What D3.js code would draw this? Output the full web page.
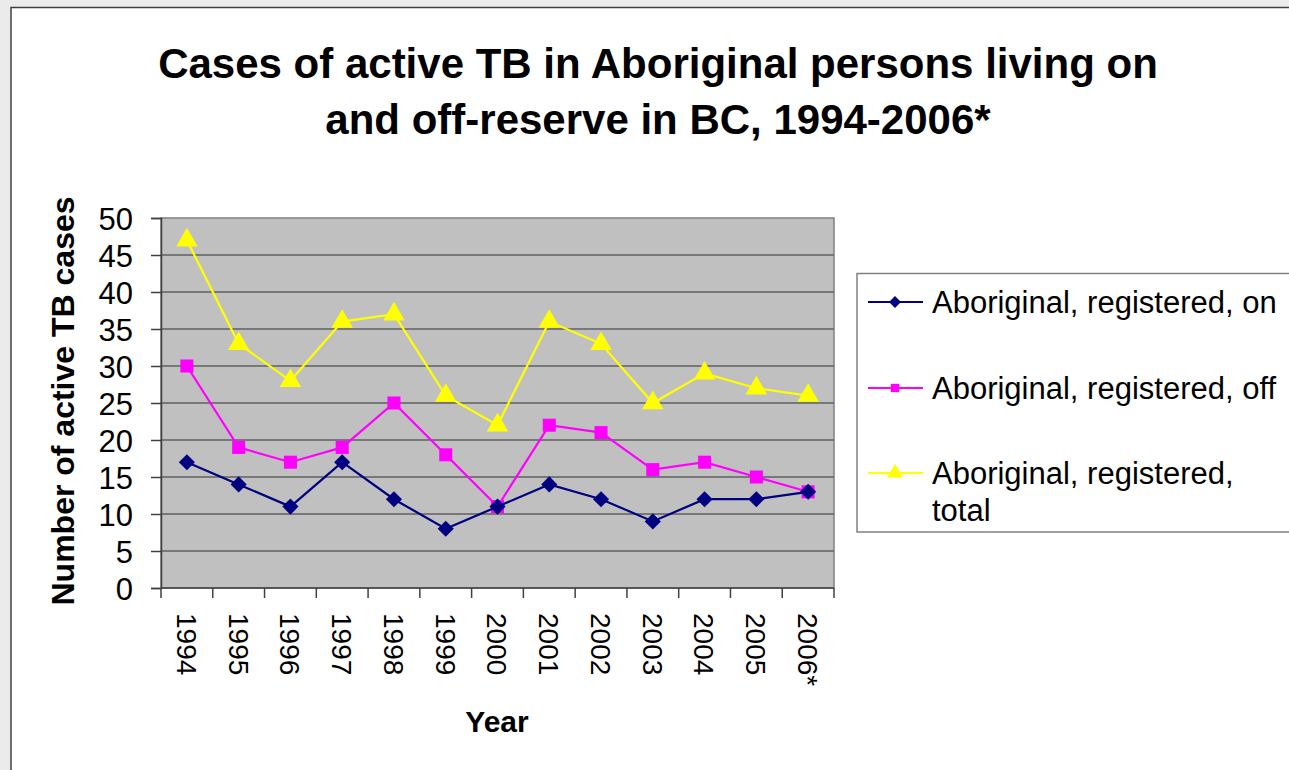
<!DOCTYPE html>
<html>
<head>
<meta charset="utf-8">
<script src="https://cdn.jsdelivr.net/npm/d3@7"></script>
<style>
  html, body { margin: 0; padding: 0; background: #ebebeb; }
  svg { display: block; font-family: Arial, "Liberation Sans", sans-serif; }
</style>
</head>
<body>
<svg id="chart" width="1289" height="770"></svg>
<script>
const years = ['1994', '1995', '1996', '1997', '1998', '1999', '2000', '2001', '2002', '2003', '2004', '2005', '2006*'];
const onReserve = [17, 14, 11, 17, 12, 8, 11, 14, 12, 9, 12, 12, 13];
const offReserve = [30, 19, 17, 19, 25, 18, 11, 22, 21, 16, 17, 15, 13];
const total = [47, 33, 28, 36, 37, 26, 22, 36, 33, 25, 29, 27, 26];
const yTicks = [0, 5, 10, 15, 20, 25, 30, 35, 40, 45, 50];

const series = [
    { name: 'Aboriginal, registered, on', values: onReserve, color: '#000080', symbol: 'diamond' },
    { name: 'Aboriginal, registered, off', values: offReserve, color: '#ff00ff', symbol: 'square' },
    { name: 'Aboriginal, registered, total', values: total, color: '#ffff00', symbol: 'triangle' }
];

const svg = d3.select('#chart');

// page frame
svg.append('rect')
    .attr('x', 11).attr('y', 7.5)
    .attr('width', 1400).attr('height', 900)
    .attr('fill', '#fff')
    .attr('stroke', '#404040')
    .attr('stroke-width', 1.5);

const plot = { left: 161, right: 834, top: 218, bottom: 588 };

const x = d3.scaleBand()
    .domain(years)
    .range([plot.left, plot.right]);

const y = d3.scaleLinear()
    .domain([0, 50])
    .range([plot.bottom, plot.top]);

// title
svg.append('text')
    .attr('text-anchor', 'middle')
    .style('font-size', '42px').style('font-weight', 'bold')
    .selectAll('tspan')
    .data(['Cases of active TB in Aboriginal persons living on', 'and off-reserve in BC, 1994-2006*'])
    .join('tspan')
    .attr('x', 658)
    .attr('y', (d, i) => 78 + i * 56)
    .text(d => d);

// plot background
svg.append('rect')
    .attr('x', plot.left).attr('y', plot.top)
    .attr('width', plot.right - plot.left)
    .attr('height', plot.bottom - plot.top)
    .attr('fill', '#c0c0c0')
    .attr('stroke', '#808080')
    .attr('stroke-width', 1.5);

// gridlines
svg.append('g')
    .selectAll('line')
    .data(yTicks.filter(d => d > 0 && d < 50))
    .join('line')
    .attr('x1', plot.left).attr('x2', plot.right)
    .attr('y1', d => y(d)).attr('y2', d => y(d))
    .attr('stroke', '#606060')
    .attr('stroke-width', 1.5);

// y axis
const yAxis = svg.append('g')
    .attr('transform', `translate(${plot.left},0)`)
    .call(d3.axisLeft(y).tickValues(yTicks).tickSize(10).tickPadding(18));
yAxis.select('.domain').attr('stroke', '#404040').attr('stroke-width', 1.5);
yAxis.selectAll('.tick line').attr('stroke', '#404040').attr('stroke-width', 1.5);
yAxis.selectAll('.tick text')
    .style('font-size', '31px')
    .attr('fill', '#000')
    .attr('dy', '0.36em');

// x axis: ticks at band edges, labels at band centres
const xAxis = svg.append('g');
xAxis.append('line')
    .attr('x1', plot.left).attr('x2', plot.right)
    .attr('y1', plot.bottom).attr('y2', plot.bottom)
    .attr('stroke', '#404040').attr('stroke-width', 1.5);
xAxis.selectAll('.xtick')
    .data(years.map(d => x(d)).concat([plot.right]))
    .join('line')
    .attr('class', 'xtick')
    .attr('x1', d => d).attr('x2', d => d)
    .attr('y1', plot.bottom).attr('y2', plot.bottom + 10)
    .attr('stroke', '#404040').attr('stroke-width', 1.5);
xAxis.selectAll('.xlabel')
    .data(years)
    .join('text')
    .attr('class', 'xlabel')
    .attr('transform', d => `translate(${x(d) + x.bandwidth() / 2},613) rotate(90)`)
    .attr('dy', '0.36em')
    .style('font-size', '28px')
    .text(d => d);

// axis titles
svg.append('text')
    .attr('transform', 'translate(74,401) rotate(-90)')
    .attr('text-anchor', 'middle')
    .style('font-size', '32px').style('font-weight', 'bold')
    .text('Number of active TB cases');

svg.append('text')
    .attr('x', 497).attr('y', 732)
    .attr('text-anchor', 'middle')
    .style('font-size', '30px').style('font-weight', 'bold')
    .text('Year');

const symbols = {
    diamond: d3.symbol().type(d3.symbolSquare).size(130),
    square: d3.symbol().type(d3.symbolSquare).size(170),
    triangle: d3.symbol().type(d3.symbolTriangle).size(200)
};
const symbolRotate = { diamond: 45, square: 0, triangle: 0 };

const line = d3.line()
    .x((d, i) => x(years[i]) + x.bandwidth() / 2)
    .y(d => y(d));

// draw total first so navy sits on top
series.slice().reverse().forEach(s => {
    svg.append('path')
        .datum(s.values)
        .attr('d', line)
        .attr('fill', 'none')
        .attr('stroke', s.color)
        .attr('stroke-width', 2.2);
    svg.append('g')
        .selectAll('path')
        .data(s.values)
        .join('path')
        .attr('d', symbols[s.symbol])
        .attr('transform', (d, i) => `translate(${x(years[i]) + x.bandwidth() / 2},${y(d)}) rotate(${symbolRotate[s.symbol]})`)
        .attr('fill', s.color);
});

// legend
const legend = svg.append('g');
legend.append('rect')
    .attr('x', 857).attr('y', 273.5)
    .attr('width', 500).attr('height', 258.5)
    .attr('fill', '#fff')
    .attr('stroke', '#808080')
    .attr('stroke-width', 1.5);

const legendY = [302, 388, 473];
series.forEach((s, i) => {
    const g = legend.append('g').attr('transform', `translate(0,${legendY[i]})`);
    g.append('line')
        .attr('x1', 868).attr('x2', 923)
        .attr('stroke', s.color).attr('stroke-width', 2);
    g.append('path')
        .attr('d', d3.symbol().type(s.symbol === 'triangle' ? d3.symbolTriangle : d3.symbolSquare).size(s.symbol === 'triangle' ? 110 : 70))
        .attr('transform', `translate(895,0) rotate(${symbolRotate[s.symbol]})`)
        .attr('fill', s.color);
    const words = s.symbol === 'triangle' ? ['Aboriginal, registered,', 'total'] : [s.name];
    g.append('text')
        .style('font-size', '31px')
        .selectAll('tspan')
        .data(words)
        .join('tspan')
        .attr('x', 932)
        .attr('y', (d, j) => j * 37)
        .attr('dy', '0.36em')
        .text(d => d);
});
</script>
</body>
</html>
